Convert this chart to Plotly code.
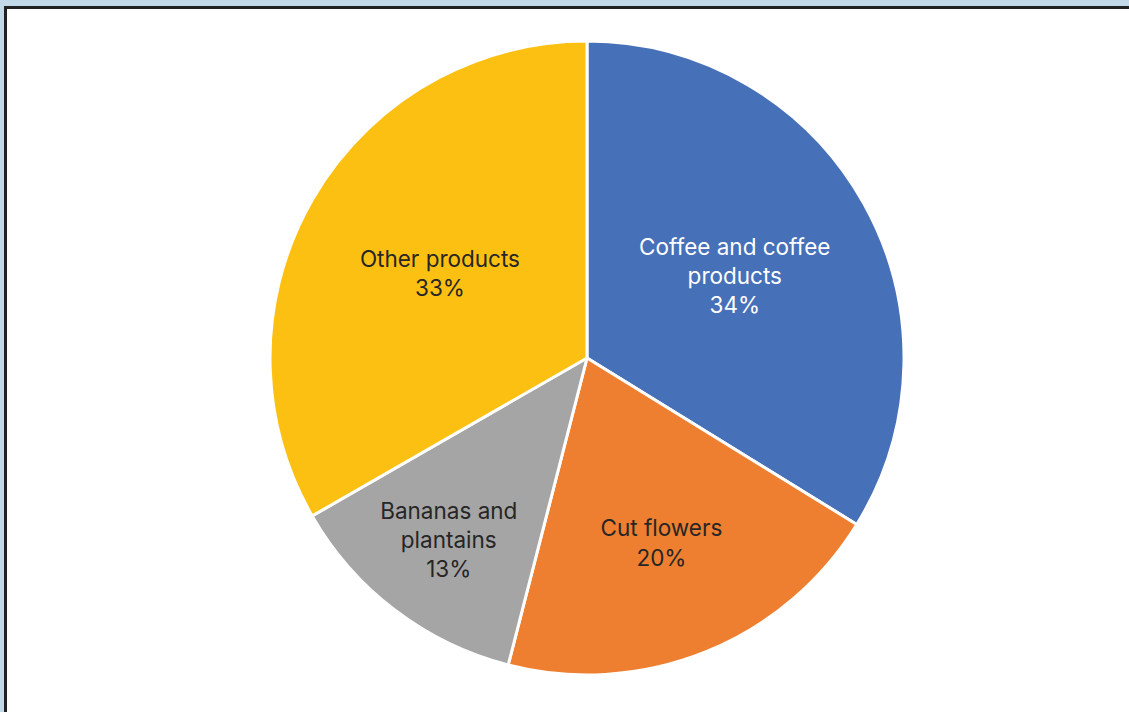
import plotly.graph_objects as go

categories = ["Coffee and coffee<br>products", "Cut flowers", "Bananas and<br>plantains", "Other products"]
shares = [33.8, 20.2, 12.7, 33.3]
colors = ["#4670b8", "#ee7f30", "#a5a5a5", "#fbc012"]
text_colors = ["#ffffff", "#262626", "#262626", "#262626"]

W, H = 1129, 712
cx, cy, r = 587, 358, 317

fig = go.Figure(go.Pie(
    labels=categories,
    values=shares,
    sort=False,
    direction="clockwise",
    rotation=0,
    marker=dict(colors=colors, line=dict(color="#ffffff", width=3)),
    texttemplate="%{label}<br>%{percent:.0%}",
    textposition="inside",
    insidetextorientation="horizontal",
    insidetextfont=dict(color=text_colors, size=22.5, family="Inter"),
    hoverinfo="label+percent",
    showlegend=False,
    domain=dict(x=[(cx - r) / W, (cx + r) / W], y=[1 - (cy + r) / H, 1 - (cy - r) / H]),
))

fig.update_layout(
    width=W, height=H,
    margin=dict(l=0, r=0, t=0, b=0),
    paper_bgcolor="#c2dae8",
    font=dict(family="Inter"),
    uniformtext=dict(minsize=22, mode="show"),
    shapes=[dict(
        type="rect", xref="paper", yref="paper", layer="below",
        x0=5.5 / W, x1=1.02, y0=-0.02, y1=1 - 7.5 / H,
        fillcolor="#ffffff", line=dict(color="#222222", width=3),
    )],
)

fig.write_html(
    "out.html",
    config={"displayModeBar": False},
    post_script="document.body.style.margin='0';document.body.style.padding='0';document.body.style.overflow='hidden';",
)
